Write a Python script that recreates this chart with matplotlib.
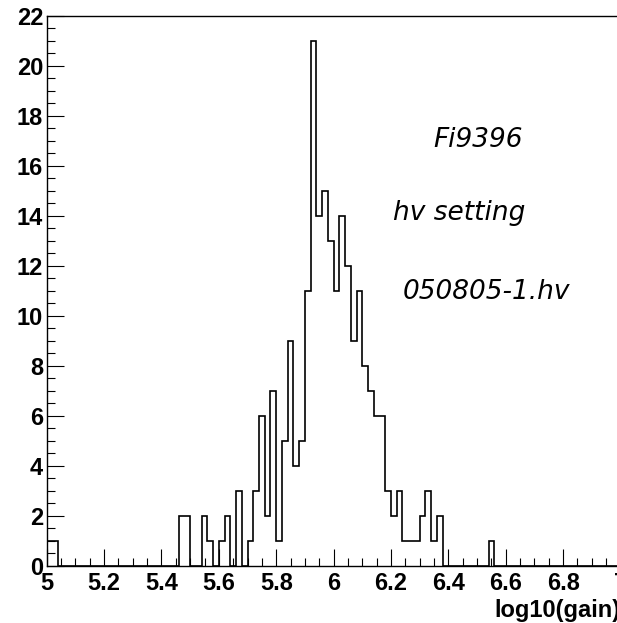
import matplotlib
matplotlib.use("Agg")
import matplotlib.pyplot as plt
import numpy as np
from matplotlib.ticker import MultipleLocator

# histogram of log10(gain), 100 bins from 5 to 7
x_min, x_max, n_bins = 5.0, 7.0, 100
counts = [
    1, 1, 0, 0, 0, 0, 0, 0, 0, 0,
    0, 0, 0, 0, 0, 0, 0, 0, 0, 0,
    0, 0, 0, 2, 2, 0, 0, 2, 1, 0,
    1, 2, 0, 3, 0, 1, 3, 6, 2, 7,
    1, 5, 9, 4, 5, 11, 21, 14, 15, 13,
    11, 14, 12, 9, 11, 8, 7, 6, 6, 3,
    2, 3, 1, 1, 1, 2, 3, 1, 2, 0,
    0, 0, 0, 0, 0, 0, 0, 1, 0, 0,
    0, 0, 0, 0, 0, 0, 0, 0, 0, 0,
    0, 0, 0, 0, 0, 0, 0, 0, 0, 0,
]
x_label = "log10(gain)"
notes = ["Fi9396", "hv setting", "050805-1.hv"]

edges = np.linspace(x_min, x_max, n_bins + 1)

fig = plt.figure(figsize=(6.17, 6.23), dpi=100)
# axes run past the right edge of the picture, as in the scanned page
ax = fig.add_axes([0.0757, 0.0915, 0.93, 0.883])

ax.stairs(counts, edges, color="black", linewidth=1.2)

ax.set_xlim(x_min, x_max)
ax.set_ylim(0, 22)
ax.xaxis.set_major_locator(MultipleLocator(0.2))
ax.xaxis.set_minor_locator(MultipleLocator(0.05))
ax.yaxis.set_major_locator(MultipleLocator(2))
ax.yaxis.set_minor_locator(MultipleLocator(0.5))
ax.xaxis.set_major_formatter(plt.FuncFormatter(lambda v, p: f"{v:g}"))

ax.tick_params(which="both", direction="in", top=False, right=False, width=0.8)
ax.tick_params(which="major", length=12)
ax.tick_params(which="minor", length=6)
ax.tick_params(axis="x", pad=4)
ax.tick_params(axis="y", pad=2.5)
for lab in ax.get_xticklabels() + ax.get_yticklabels():
    lab.set_fontfamily("Liberation Sans")
    lab.set_fontweight("bold")
    lab.set_fontsize(17)

for side in ("left", "bottom", "top", "right"):
    ax.spines[side].set_linewidth(1.0)

ax.text(1.0, -0.08, x_label, transform=ax.transAxes, ha="right", va="center",
        fontfamily="Liberation Sans", fontweight="bold", fontsize=17)

# handwritten notes on the printout
note_pos = [(0.702, 0.775), (0.637, 0.658), (0.652, 0.531)]
for (tx, ty), txt in zip(note_pos, notes):
    fig.text(tx, ty, txt, ha="left", va="center", fontsize=19,
             fontfamily="DejaVu Sans", fontstyle="italic", fontweight="light")

fig.savefig("out.png", dpi=100)
